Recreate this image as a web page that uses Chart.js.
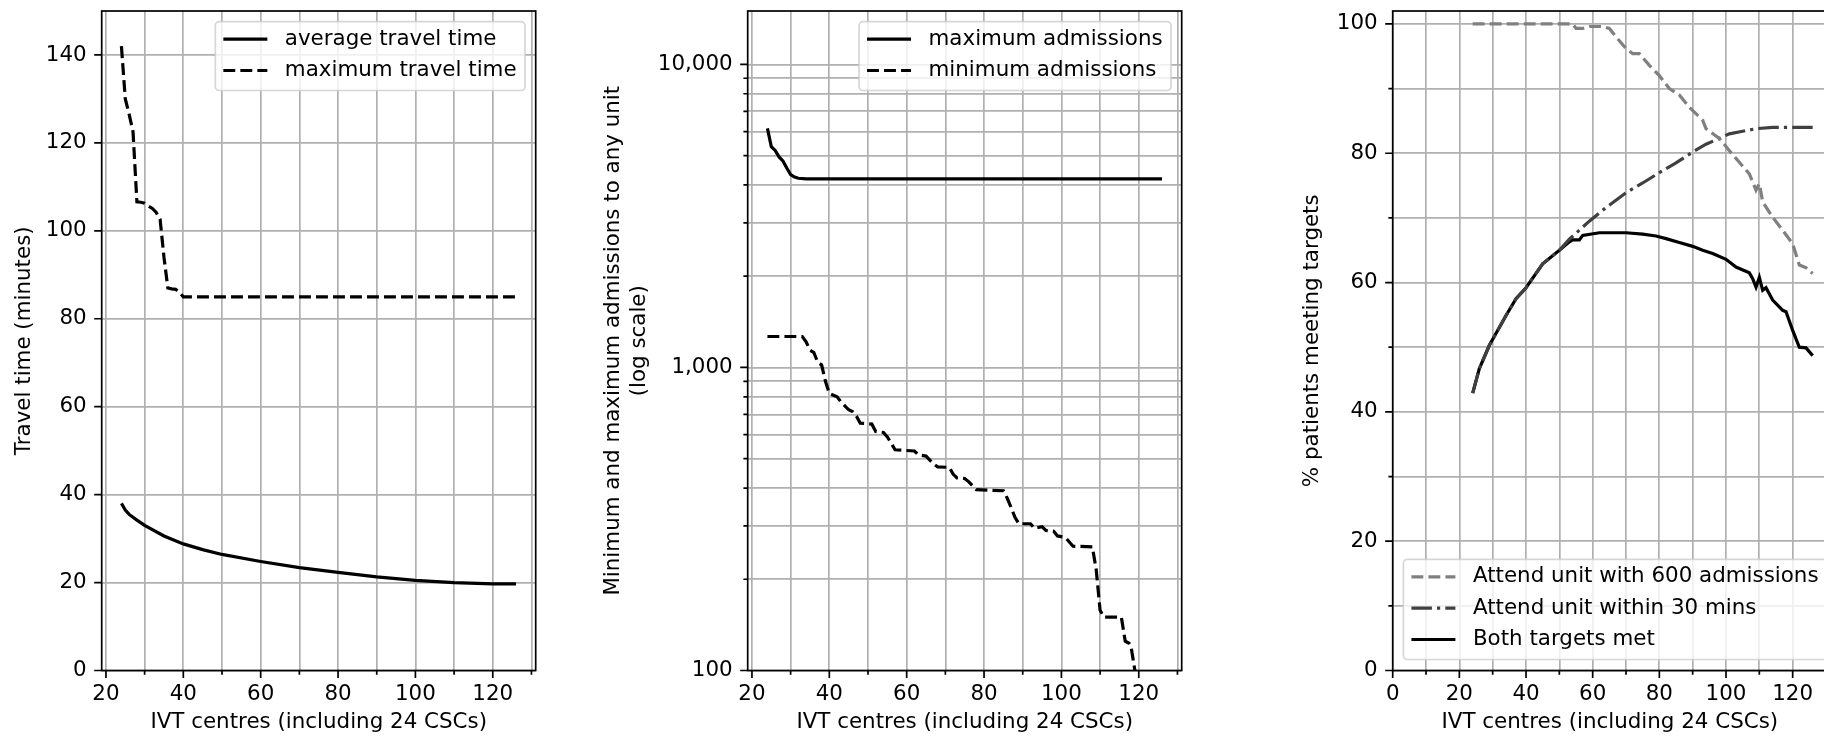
<!DOCTYPE html>
<html>
<head>
<meta charset="utf-8">
<script src="https://cdn.jsdelivr.net/npm/chart.js@4/dist/chart.umd.min.js"></script>
<style>
  html, body { margin: 0; padding: 0; background: #fff; width: 1824px; height: 736px; overflow: hidden; }
  .panel { position: absolute; top: 0; }
  canvas { display: block; }
</style>
</head>
<body>
<div class="panel" style="left:0px"><canvas id="travel" width="560" height="736"></canvas></div>
<div class="panel" style="left:580px"><canvas id="admissions" width="620" height="736"></canvas></div>
<div class="panel" style="left:1240px"><canvas id="targets" width="680" height="736"></canvas></div>
<script>
// ---- data ----
// panel 1: travel time (minutes) against number of IVT centres
var avgTravelX = [24, 25, 26, 28, 30, 35, 40, 45, 50, 60, 70, 80, 90, 100, 110, 120, 126];
var avgTravelY = [38.0, 36.5, 35.5, 34.2, 33.0, 30.6, 28.8, 27.5, 26.4, 24.8, 23.4, 22.3, 21.3, 20.5, 20.0, 19.7, 19.7];
var maxTravelX = [24, 25, 26, 27, 28, 29, 30, 31, 32, 33, 34, 35, 36, 37, 38, 39, 40, 126];
var maxTravelY = [142, 130, 126.5, 122.5, 106.6, 106.5, 106.3, 105.6, 105.1, 104.2, 102.6, 94, 87, 86.8, 86.7, 86, 85, 85];

// panel 2: admissions to any unit (log scale)
var maxAdmX = [24, 25, 26, 27, 28, 29, 30, 31, 32, 34, 126];
var maxAdmY = [6150, 5350, 5200, 4950, 4800, 4550, 4330, 4250, 4210, 4190, 4190];
var minAdmX = [24, 33, 34, 35, 36, 37, 38, 39, 40, 42, 43, 45, 46, 47, 48, 51, 52, 54, 55, 57, 62, 63, 65, 67, 68, 71, 72, 73, 75, 76, 78, 85, 86, 87, 88, 89, 92, 93, 95, 96, 98, 99, 101, 103, 108, 109, 110, 111, 115.5, 116.5, 117.5, 118, 119];
var minAdmY = [1265, 1265, 1215, 1140, 1120, 1040, 1020, 900, 820, 800, 770, 725, 715, 690, 655, 650, 615, 610, 590, 535, 530, 515, 510, 480, 470, 468, 445, 432, 430, 420, 395, 392, 370, 345, 320, 305, 305, 295, 298, 290, 288, 278, 275, 257, 256, 215, 158, 150, 150, 125, 123, 120, 100];

// panel 3: % patients meeting targets
var admTargetX = [24, 54, 55, 57, 59, 63, 65, 67, 70, 72, 74, 77, 80, 83, 86, 89, 93, 94, 98, 101, 104, 107, 109, 110, 111, 114, 117, 120, 122, 124, 126];
var admTargetY = [100, 100, 99.3, 99.3, 99.6, 99.6, 99.3, 98.0, 96.2, 95.4, 95.4, 93.6, 92.0, 90.0, 89.0, 87.1, 85.1, 83.8, 82.3, 80.4, 78.6, 76.8, 74.3, 75.3, 72.5, 70.1, 68.1, 66.0, 62.7, 62.3, 61.4];
var timeTargetX = [24, 26, 29, 34, 37, 40, 45, 50, 53, 59, 64, 70, 75, 80, 85, 90, 94, 98, 101, 105, 109, 114, 126];
var timeTargetY = [42.9, 46.7, 50.3, 54.9, 57.5, 59.2, 62.9, 65.0, 66.7, 69.5, 71.6, 73.9, 75.4, 77.0, 78.5, 80.2, 81.4, 82.3, 83.0, 83.4, 83.8, 84.0, 84.0];
var bothX = [24, 26, 29, 34, 37, 40, 45, 50, 53, 54, 56, 57, 62, 70, 75, 79, 82, 86, 90, 93, 96, 100, 103, 107, 108, 109, 110, 111, 112, 114, 117, 118, 120, 122, 124, 126];
var bothY = [42.9, 46.7, 50.3, 54.9, 57.5, 59.2, 62.9, 65.0, 66.3, 66.6, 66.6, 67.3, 67.7, 67.7, 67.5, 67.2, 66.8, 66.2, 65.6, 65.0, 64.5, 63.6, 62.4, 61.5, 60.6, 59.3, 60.8, 58.8, 59.2, 57.3, 55.7, 55.5, 52.6, 50.0, 49.9, 48.7];

// tick values
var xTicksFrom20 = [20, 30, 40, 50, 60, 70, 80, 90, 100, 110, 120, 130];
var xTicksFrom0 = [0, 10, 20, 30, 40, 50, 60, 70, 80, 90, 100, 110, 120, 130];
var travelTicks = [0, 20, 40, 60, 80, 100, 120, 140];
var admissionTicks = [100, 200, 300, 400, 500, 600, 700, 800, 900, 1000, 2000, 3000, 4000, 5000, 6000, 7000, 8000, 9000, 10000];
var percentTicks = [0, 10, 20, 30, 40, 50, 60, 70, 80, 90, 100];

// ---- shared look ----
var FONT = 21.4;
var LW = 3.2;
var DASH = [11.9, 5.1];
var DASHDOT = [20.5, 5.1, 3.2, 5.1];
Chart.defaults.font.family = '"DejaVu Sans", sans-serif';
Chart.defaults.font.size = FONT;
Chart.defaults.color = '#000';

function pts(xs, ys) {
  return xs.map(function (x, i) { return { x: x, y: ys[i] }; });
}

function setTicks(values) {
  return function (scale) {
    scale.ticks = values.map(function (v) { return { value: v }; });
  };
}

function fixSize(size, vertical) {
  return function (scale) {
    if (vertical) scale.width = size; else scale.height = size;
    scale.paddingTop = 0; scale.paddingBottom = 0;
    scale.paddingLeft = 0; scale.paddingRight = 0;
  };
}

function everyOther(step) {
  return function (v) { return v % step === 0 ? String(v) : ''; };
}

// black frame and outward tick marks, matplotlib style
var frame = {
  id: 'frame',
  afterDatasetsDraw: function (chart) {
    var ctx = chart.ctx, a = chart.chartArea;
    var sx = chart.scales.x, sy = chart.scales.y;
    ctx.save();
    ctx.strokeStyle = '#000';
    ctx.lineWidth = 1.7;
    ctx.beginPath();
    sx.ticks.forEach(function (t) {
      var p = sx.getPixelForValue(t.value);
      ctx.moveTo(p, a.bottom);
      ctx.lineTo(p, a.bottom + (t.label ? 7.5 : 4.3));
    });
    sy.ticks.forEach(function (t) {
      var p = sy.getPixelForValue(t.value);
      ctx.moveTo(a.left, p);
      ctx.lineTo(a.left - (t.label ? 7.5 : 4.3), p);
    });
    ctx.stroke();
    ctx.strokeRect(a.left, a.top, a.right - a.left, a.bottom - a.top);
    ctx.restore();
  }
};

// legend box inside the axes
var boxLegend = {
  id: 'boxLegend',
  afterDraw: function (chart, args, opts) {
    var ctx = chart.ctx, a = chart.chartArea;
    var items = chart.data.datasets;
    ctx.save();
    ctx.font = FONT + 'px "DejaVu Sans"';
    var tw = 0;
    items.forEach(function (d) { tw = Math.max(tw, ctx.measureText(d.label).width); });
    var w = 8.6 + 43 + 17.7 + tw + 8.6;
    var h = 17.5 + 31.3 * (items.length - 1) + 20;
    var left, top;
    if (opts.loc === 'bl') { left = a.left + 10.7; top = a.bottom - 11 - h; }
    else { left = a.right - 10.7 - w; top = a.top + 10.7; }
    ctx.beginPath();
    ctx.roundRect(left, top, w, h, 4);
    ctx.fillStyle = 'rgba(255,255,255,0.8)';
    ctx.fill();
    ctx.strokeStyle = 'rgba(204,204,204,0.8)';
    ctx.lineWidth = 1.7;
    ctx.stroke();
    items.forEach(function (d, i) {
      var y = top + 17.5 + 31.3 * i;
      ctx.beginPath();
      ctx.setLineDash(d.borderDash || []);
      ctx.strokeStyle = d.borderColor;
      ctx.lineWidth = LW;
      ctx.moveTo(left + 8, y);
      ctx.lineTo(left + 52, y);
      ctx.stroke();
      ctx.setLineDash([]);
      ctx.fillStyle = '#000';
      ctx.textBaseline = 'middle';
      ctx.textAlign = 'left';
      ctx.fillText(d.label, left + 69.5, y);
    });
    ctx.restore();
  }
};

function line(label, data, color, dash) {
  return {
    label: label, data: data, borderColor: color, backgroundColor: color,
    borderWidth: LW, borderDash: dash || [], pointRadius: 0, tension: 0, fill: false
  };
}

function xScale(min, max, values) {
  return {
    type: 'linear', min: min, max: max,
    afterBuildTicks: setTicks(values),
    afterFit: fixSize(65.5, false),
    ticks: { callback: everyOther(20), autoSkip: false, maxRotation: 0, padding: 11 },
    grid: { color: '#b0b0b0', lineWidth: 1.7, drawTicks: false },
    border: { display: false },
    title: { display: true, text: 'IVT centres (including 24 CSCs)', padding: { top: 0, bottom: 1 } }
  };
}

function baseOptions(padding, xs, ys) {
  return {
    responsive: false, animation: false, devicePixelRatio: 1,
    layout: { padding: padding },
    plugins: { legend: { display: false }, tooltip: { enabled: false } },
    scales: { x: xs, y: ys }
  };
}

// ---- panel 1 ----
var opt1 = baseOptions({ top: 11, left: 0, right: 24.3, bottom: 0 },
  xScale(18.9, 131.1, xTicksFrom20),
  {
    type: 'linear', min: 0, max: 150,
    afterBuildTicks: setTicks(travelTicks),
    afterFit: fixSize(101.7, true),
    ticks: { autoSkip: false, padding: 15 },
    grid: { color: '#b0b0b0', lineWidth: 1.7, drawTicks: false },
    border: { display: false },
    title: { display: true, text: 'Travel time (minutes)', padding: { top: 11.2, bottom: 0 } }
  });
opt1.plugins.boxLegend = { loc: 'tr' };
new Chart(document.getElementById('travel'), {
  type: 'line',
  data: { datasets: [
    line('average travel time', pts(avgTravelX, avgTravelY), '#000'),
    line('maximum travel time', pts(maxTravelX, maxTravelY), '#000', DASH)
  ] },
  options: opt1,
  plugins: [frame, boxLegend]
});

// ---- panel 2 ----
var opt2 = baseOptions({ top: 11, left: 0, right: 18.3, bottom: 0 },
  xScale(18.9, 131.1, xTicksFrom20),
  {
    type: 'logarithmic', min: 100, max: 15000,
    afterBuildTicks: setTicks(admissionTicks),
    afterFit: fixSize(167.7, true),
    ticks: {
      autoSkip: false, padding: 15,
      callback: function (v) { return (v === 100 || v === 1000 || v === 10000) ? v.toLocaleString('en-US') : ''; }
    },
    grid: { color: '#b0b0b0', lineWidth: 1.7, drawTicks: false },
    border: { display: false },
    title: { display: true, text: ['Minimum and maximum admissions to any unit', '(log scale)'], padding: { top: 20.8, bottom: 0 } }
  });
opt2.plugins.boxLegend = { loc: 'tr' };
new Chart(document.getElementById('admissions'), {
  type: 'line',
  data: { datasets: [
    line('maximum admissions', pts(maxAdmX, maxAdmY), '#000'),
    line('minimum admissions', pts(minAdmX, minAdmY), '#000', DASH)
  ] },
  options: opt2,
  plugins: [frame, boxLegend]
});

// ---- panel 3 ----
var opt3 = baseOptions({ top: 11, left: 0, right: 93, bottom: 0 },
  xScale(0, 130.3, xTicksFrom0),
  {
    type: 'linear', min: 0, max: 102,
    afterBuildTicks: setTicks(percentTicks),
    afterFit: fixSize(152.7, true),
    ticks: { autoSkip: false, padding: 15, callback: everyOther(20) },
    grid: { color: '#b0b0b0', lineWidth: 1.7, drawTicks: false },
    border: { display: false },
    title: { display: true, text: '% patients meeting targets', padding: { top: 59.8, bottom: 0 } }
  });
opt3.plugins.boxLegend = { loc: 'bl' };
new Chart(document.getElementById('targets'), {
  type: 'line',
  data: { datasets: [
    line('Attend unit with 600 admissions', pts(admTargetX, admTargetY), '#808080', DASH),
    line('Attend unit within 30 mins', pts(timeTargetX, timeTargetY), '#404040', DASHDOT),
    line('Both targets met', pts(bothX, bothY), '#000')
  ] },
  options: opt3,
  plugins: [frame, boxLegend]
});
</script>
</body>
</html>
